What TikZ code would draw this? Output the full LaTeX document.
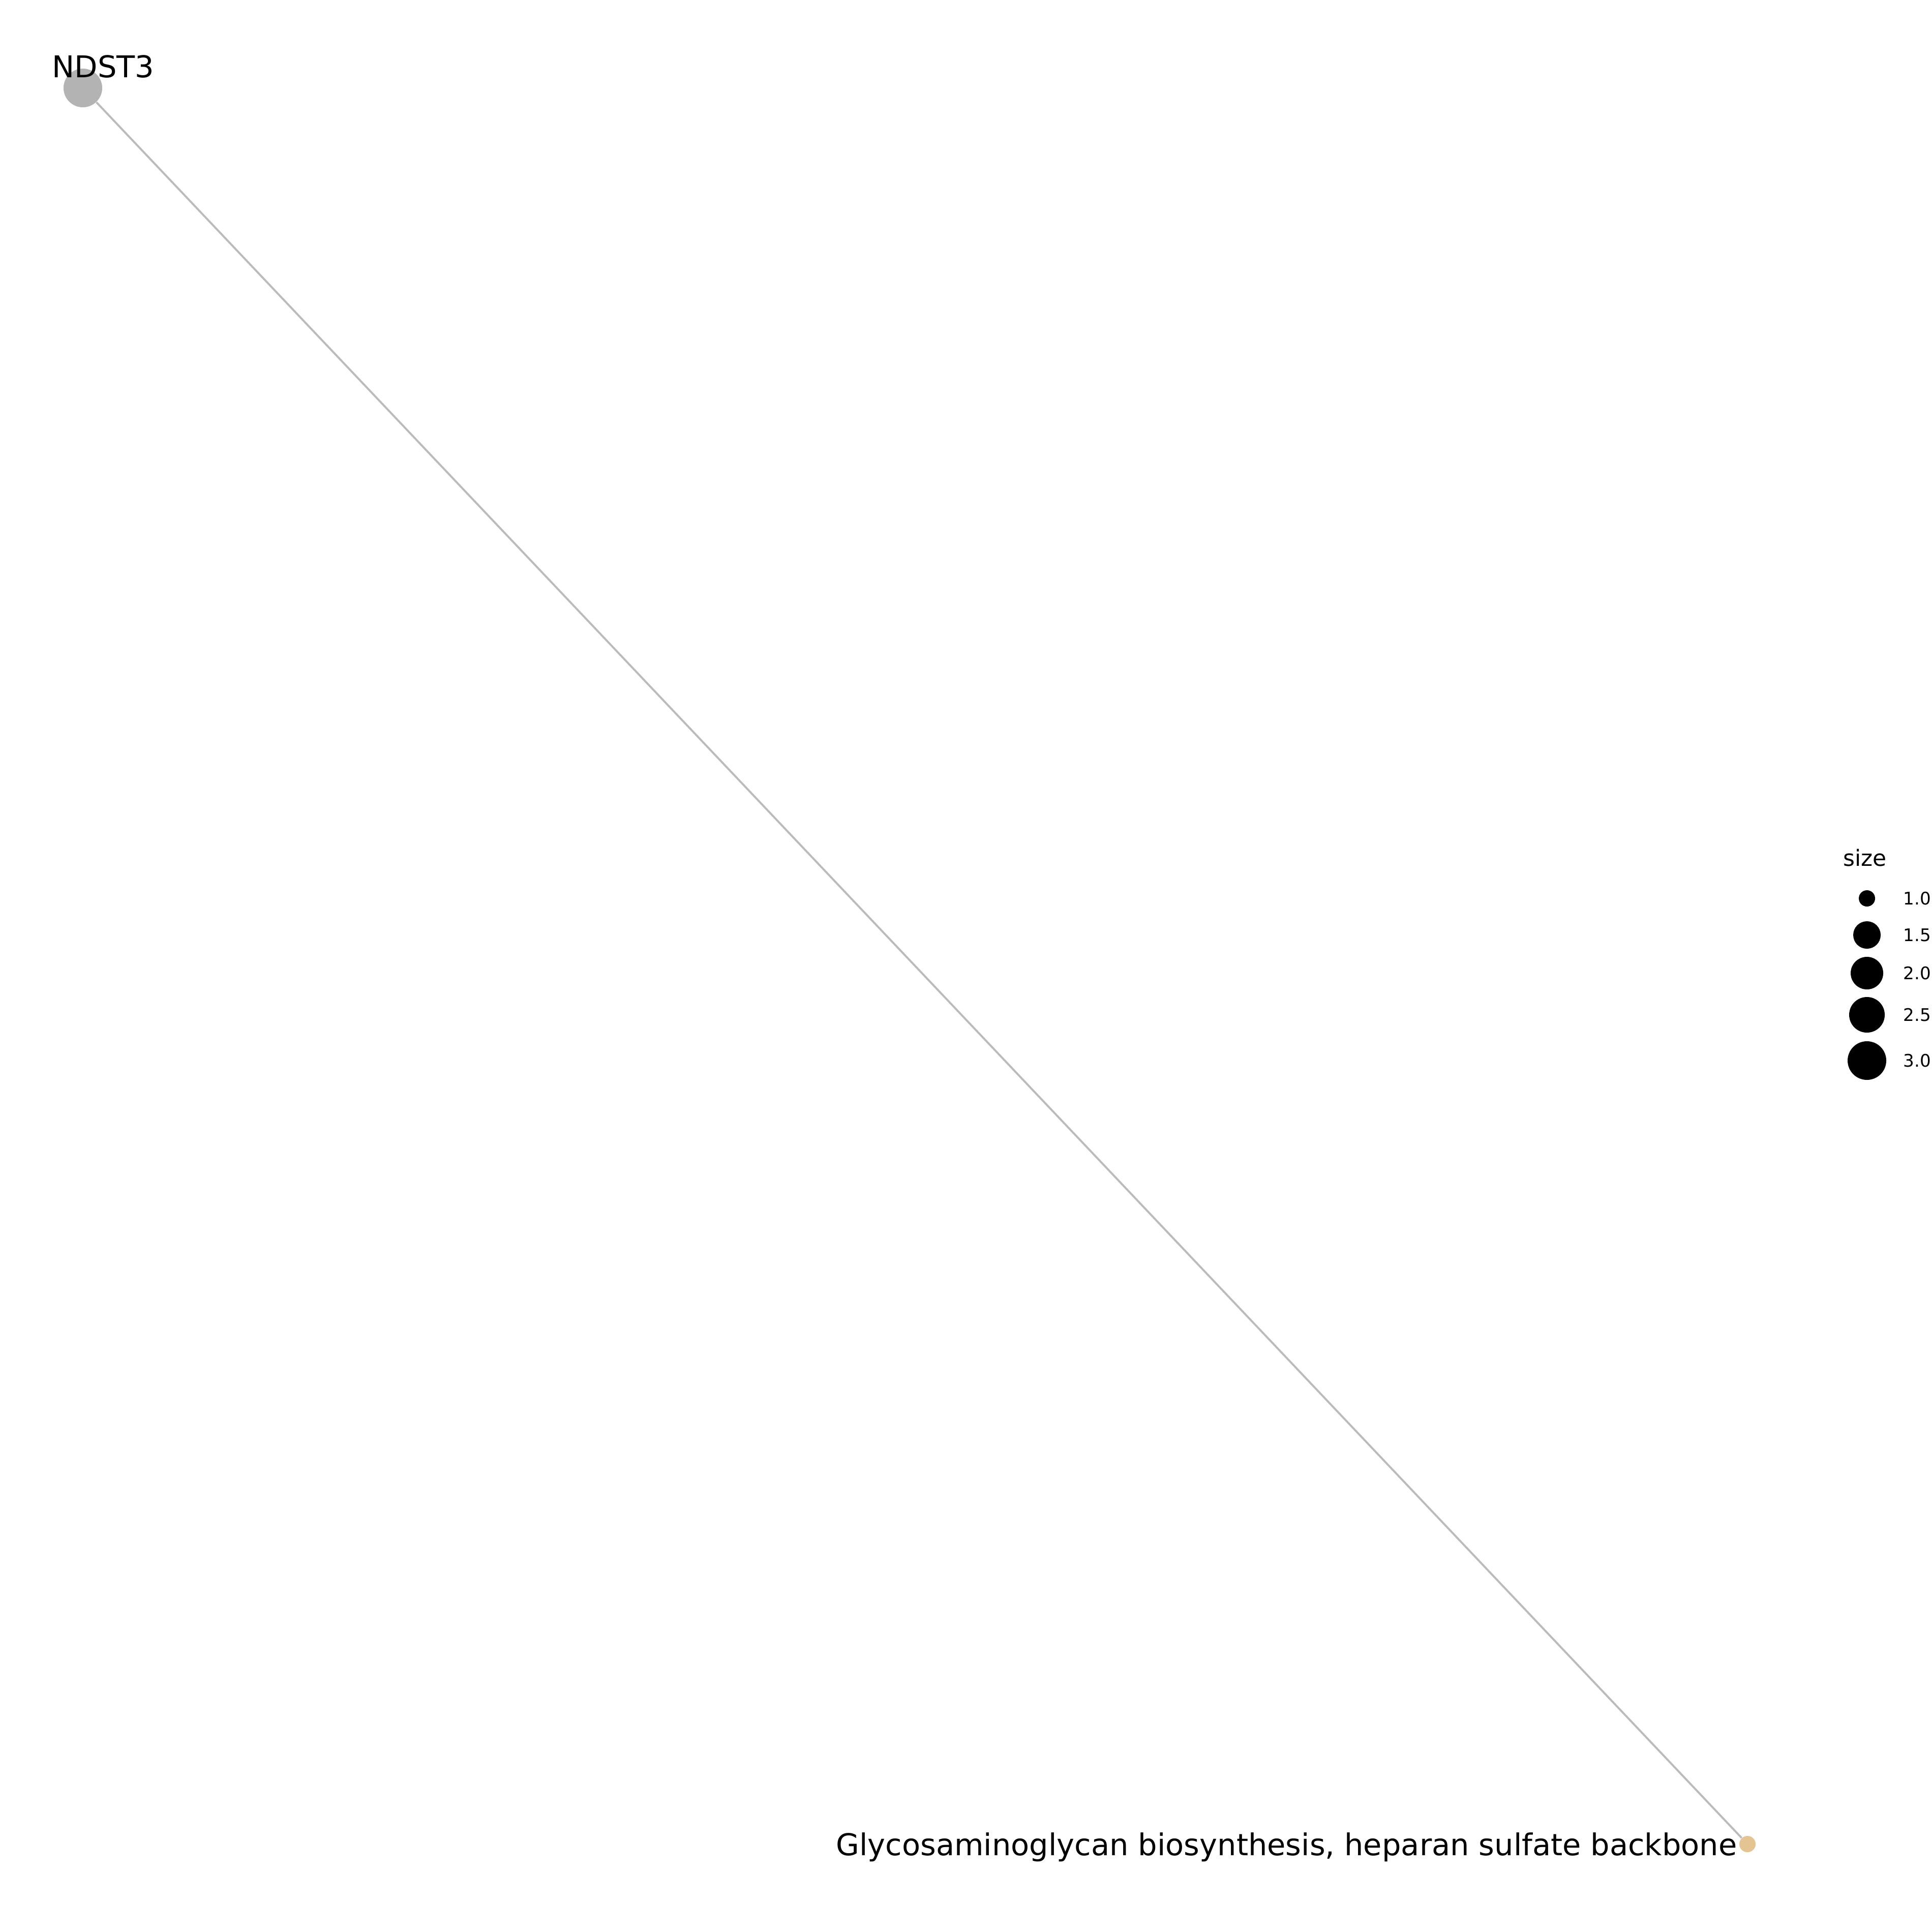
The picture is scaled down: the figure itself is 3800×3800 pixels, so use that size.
\documentclass[tikz,border=0pt]{standalone}
\usepackage{fontspec}
\usepackage[outline]{contour}
\setmainfont{DejaVu Sans}
\contourlength{0.9pt}
\definecolor{genegray}{HTML}{B3B3B3}
\definecolor{pathtan}{HTML}{E5C494}
\definecolor{edgegray}{HTML}{BBBBBB}

\begin{document}
\begin{tikzpicture}[x=0.01cm,y=-0.01cm,
  dot/.style={circle,inner sep=0pt,minimum size=#1},
  lbl/.style={inner sep=0pt,font=\fontsize{16.8}{20}\selectfont},
  keylbl/.style={inner sep=0pt,anchor=west,font=\fontsize{9.7}{12}\selectfont}]
  \useasboundingbox[fill=white] (0,0) rectangle (3800,3800);

  \node[dot=0.76cm,fill=genegray] (ndst) at (163,173) {};
  \node[dot=0.32cm,fill=pathtan] (gly) at (3437,3627) {};
  \draw[edgegray,line width=1.1pt] (ndst) -- (gly);

  \node[lbl,anchor=base west] (ndstlbl) at (102,153) {\contour{white}{NDST3}};
  \node[lbl,anchor=base east] (glylbl) at (3417,3649) {Glycosaminoglycan biosynthesis, heparan sulfate backbone};

  % legend
  \node[inner sep=0pt,anchor=base west,font=\fontsize{12.5}{15}\selectfont] (keytitle) at (3625,1703) {size};
  \foreach \v/\y/\r in {1.0/1767/16,1.5/1839/27,2.0/1914/32,2.5/1996/35,3.0/2086/38} {
    \fill (3672,\y) circle (\r);
    \node[keylbl] (key\v) at (3743,\y) {\v};
  }
\end{tikzpicture}
\end{document}
